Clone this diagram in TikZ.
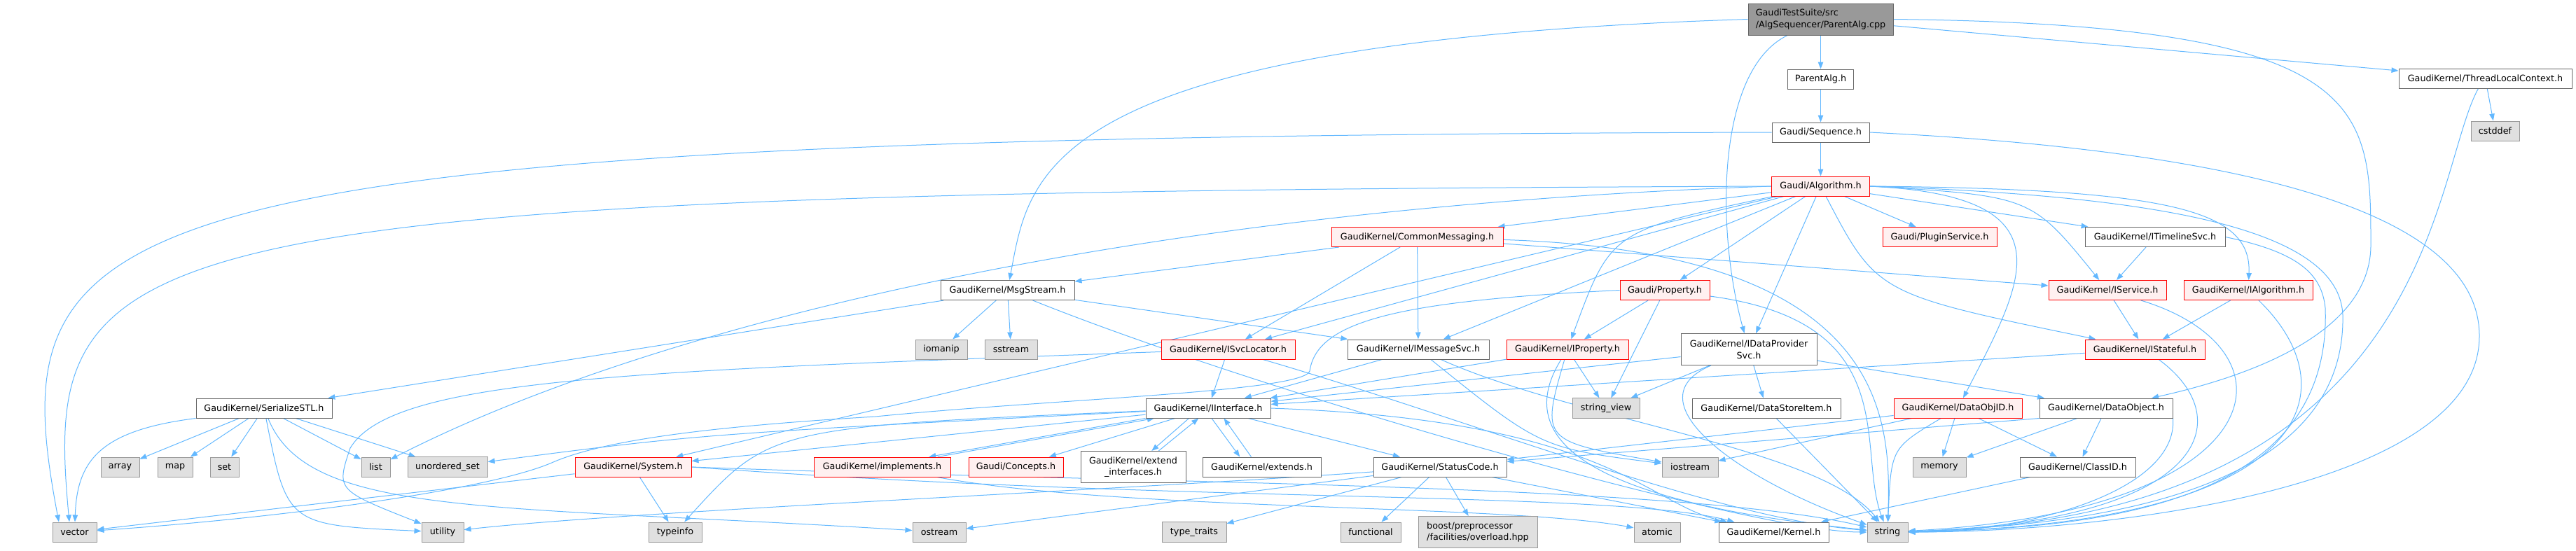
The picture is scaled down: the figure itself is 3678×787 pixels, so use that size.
\documentclass[tikz,border=0pt]{standalone}
\usepackage{fontspec}
\setmainfont{DejaVu Sans}
\usepackage{xcolor}
\usepackage{tikz}
\usetikzlibrary{positioning,backgrounds,arrows.meta}
\definecolor{edgeblue}{HTML}{63B8FF}
\definecolor{truncfill}{HTML}{FFF0F0}
\definecolor{sysfill}{HTML}{E0E0E0}
\definecolor{grey40}{HTML}{666666}
\definecolor{grey60}{HTML}{999999}

\begin{document}
\begin{tikzpicture}[x=0.8pt,y=-0.8pt,font=\fontsize{10.2}{13.3}\selectfont,
 box/.style={draw=grey40,fill=white,line width=0.8pt,align=center,minimum height=22.4pt,inner xsep=2pt,inner ysep=6.2pt},
 sys/.style={box,draw=grey60,fill=sysfill},
 trunc/.style={box,draw=red,fill=truncfill},
 ar/.style={-{Triangle[length=8pt,width=6pt]},draw=edgeblue,line width=0.8pt}]
\useasboundingbox (0,0) rectangle (3678,787);
\node[box,fill=grey60,align=left,minimum width=165.6pt,minimum height=36pt] (root) at (2599.5,27.5) {GaudiTestSuite/src\\/AlgSequencer/ParentAlg.cpp};
\node[box,minimum width=75.2pt,below=38.4pt of root] (parentalg) {ParentAlg.h};
\node[box,minimum width=197.6pt] (tlc) at (3548.5,112) {GaudiKernel/ThreadLocalContext.h};
\node[box,minimum width=111.2pt,below=37.6pt of parentalg] (sequence) {Gaudi/Sequence.h};
\node[sys,minimum width=55.2pt] (cstddef) at (3562.5,187) {cstddef};
\node[trunc,minimum width=112pt,below=38.4pt of sequence] (algorithm) {Gaudi/Algorithm.h};
\node[trunc,minimum width=196pt] (commonmsg) at (2023.5,338.5) {GaudiKernel/CommonMessaging.h};
\node[trunc,minimum width=130.4pt] (pluginsvc) at (2769.5,338.5) {Gaudi/PluginService.h};
\node[box,minimum width=160pt,right=100pt of pluginsvc] (timelinesvc) {GaudiKernel/ITimelineSvc.h};
\node[box,minimum width=152.8pt] (msgstream) at (1438.5,414.5) {GaudiKernel/MsgStream.h};
\node[trunc,minimum width=102.4pt] (property) at (2377,414.5) {Gaudi/Property.h};
\node[trunc,minimum width=134.4pt] (iservice) at (3009,414.5) {GaudiKernel/IService.h};
\node[trunc,minimum width=147.2pt,right=19.2pt of iservice] (ialgorithm) {GaudiKernel/IAlgorithm.h};
\node[sys,minimum width=59.2pt] (iomanip) at (1344,499) {iomanip};
\node[sys,minimum width=60pt,right=19.2pt of iomanip] (sstream) {sstream};
\node[trunc,minimum width=152.8pt] (svclocator) at (1753.5,499) {GaudiKernel/ISvcLocator.h};
\node[box,minimum width=161.6pt,right=59.2pt of svclocator] (messagesvc) {GaudiKernel/IMessageSvc.h};
\node[trunc,minimum width=139.2pt,right=19.2pt of messagesvc] (iproperty) {GaudiKernel/IProperty.h};
\node[box,minimum width=155.2pt,minimum height=36pt,right=59.2pt of iproperty] (dataprovider) {GaudiKernel/IDataProvider\\Svc.h};
\node[trunc,minimum width=136.8pt] (istateful) at (3062.5,499) {GaudiKernel/IStateful.h};
\node[box,minimum width=155.2pt] (serializestl) at (377,583) {GaudiKernel/SerializeSTL.h};
\node[box,minimum width=142.4pt] (iinterface) at (1725,583) {GaudiKernel/IInterface.h};
\node[sys,minimum width=76.8pt] (stringview) at (2293,583) {string\_view};
\node[box,minimum width=169.6pt,right=59.2pt of stringview] (datastoreitem) {GaudiKernel/DataStoreItem.h};
\node[trunc,minimum width=146.4pt,right=60pt of datastoreitem] (dataobjid) {GaudiKernel/DataObjID.h};
\node[box,minimum width=152pt,right=19.2pt of dataobjid] (dataobject) {GaudiKernel/DataObject.h};
\node[sys,minimum width=44pt] (array) at (171.5,667) {array};
\node[sys,minimum width=40pt,right=20pt of array] (map) {map};
\node[sys,minimum width=32.8pt,right=19.2pt of map] (set) {set};
\node[sys,minimum width=32.8pt] (list) at (536.5,667) {list};
\node[sys,minimum width=91.2pt,right=19.2pt of list] (unorderedset) {unordered\_set};
\node[trunc,minimum width=132.8pt] (system) at (904,667) {GaudiKernel/System.h};
\node[trunc,minimum width=156pt] (implements) at (1259.5,667) {GaudiKernel/implements.h};
\node[trunc,minimum width=108pt,right=20pt of implements] (concepts) {Gaudi/Concepts.h};
\node[box,minimum width=120pt,minimum height=36pt,right=19.2pt of concepts] (extendif) {GaudiKernel/extend\\\_interfaces.h};
\node[box,minimum width=135.2pt,right=18.4pt of extendif] (extends) {GaudiKernel/extends.h};
\node[box,minimum width=152pt,right=59.2pt of extends] (statuscode) {GaudiKernel/StatusCode.h};
\node[sys,minimum width=64pt] (iostream) at (2413,667) {iostream};
\node[sys,minimum width=60.8pt] (memory) at (2769,667) {memory};
\node[box,minimum width=132pt,right=60.8pt of memory] (classid) {GaudiKernel/ClassID.h};
\node[sys,minimum width=50.4pt] (vector) at (106.5,760) {vector};
\node[sys,minimum width=48pt] (utility) at (632,760) {utility};
\node[sys,minimum width=60.8pt] (typeinfo) at (964,760) {typeinfo};
\node[sys,minimum width=60.8pt] (ostream) at (1341,760) {ostream};
\node[sys,minimum width=73.6pt] (typetraits) at (1705,760) {type\_traits};
\node[sys,minimum width=68.8pt] (functional) at (1957,760) {functional};
\node[sys,align=left,minimum width=136pt,minimum height=36pt,right=19.2pt of functional] (boost) {boost/preprocessor\\/facilities/overload.hpp};
\node[sys,minimum width=52.8pt] (atomic) at (2366,760) {atomic};
\node[box,minimum width=125.6pt,right=43.2pt of atomic] (kernel) {GaudiKernel/Kernel.h};
\node[sys,minimum width=46.4pt,right=43.2pt of kernel] (string) {string};
\begin{scope}[on background layer]
\draw[ar] (root) -- (parentalg);
\draw[ar] (parentalg) -- (sequence);
\draw[ar] (sequence) -- (algorithm);
\draw[ar] (root) -- (tlc);
\draw[ar] (tlc) -- (cstddef);
\draw[ar] (root.west) .. controls (1480,60) and (1470,250) .. (msgstream);
\draw[ar] (root) .. controls (2450,100) and (2450,330) .. (dataprovider);
\draw[ar] (root.east) .. controls (3385,35) and (3385,150) .. (3385,350) .. controls (3385,480) and (3200,540) .. (dataobject);
\draw[ar] (sequence.west) .. controls (100,195) and (0,300) .. ([xshift=-18pt]vector.north);
\draw[ar] (algorithm.west) .. controls (150,275) and (60,330) .. ([xshift=-6pt]vector.north);
\draw[ar] (sequence.east) .. controls (3300,220) and (3540,330) .. (3540,480) .. controls (3540,700) and (3000,760) .. (string);
\draw[ar] ([xshift=-8pt]tlc.south) .. controls (3470,250) and (3480,740) .. (string);
\draw[ar] (algorithm) -- (commonmsg);
\draw[ar] (algorithm) -- (pluginsvc);
\draw[ar] (algorithm) -- (timelinesvc);
\draw[ar] (algorithm.east) .. controls (3100,270) and (3215,300) .. (ialgorithm);
\draw[ar] (algorithm.east) .. controls (2900,280) .. (iservice);
\draw[ar] (algorithm) .. controls (2680,420) .. (istateful);
\draw[ar] (algorithm) -- (svclocator);
\draw[ar] (algorithm) -- (messagesvc);
\draw[ar] (algorithm) .. controls (2300,330) .. (iproperty);
\draw[ar] (algorithm) -- (property);
\draw[ar] (algorithm) -- (dataprovider);
\draw[ar] (algorithm.east) .. controls (2960,280) and (2890,400) .. (dataobjid);
\draw[ar] (algorithm) -- (system);
\draw[ar] (algorithm.east) .. controls (3100,280) and (3340,330) .. (3345,450) .. controls (3350,700) and (3000,750) .. (string);
\draw[ar] (algorithm.west) .. controls (1560,300) and (900,480) .. (list);
\draw[ar] (commonmsg) -- (msgstream);
\draw[ar] (commonmsg) -- (svclocator);
\draw[ar] (commonmsg) -- (messagesvc);
\draw[ar] (commonmsg) -- (iservice);
\draw[ar] (commonmsg) .. controls (2700,360) and (2700,600) .. (string);
\draw[ar] (msgstream) -- (serializestl);
\draw[ar] (msgstream) -- (iomanip);
\draw[ar] (msgstream) -- (sstream);
\draw[ar] (msgstream) -- (messagesvc);
\draw[ar] (msgstream) .. controls (1800,560) and (2500,760) .. (string);
\draw[ar] (serializestl.south west) .. controls (140,615) and (110,660) .. (vector);
\draw[ar] (serializestl) -- (array);
\draw[ar] (serializestl) -- (map);
\draw[ar] (serializestl) -- (set);
\draw[ar] (serializestl) -- (list);
\draw[ar] (serializestl) -- (unorderedset);
\draw[ar] (serializestl) .. controls (410,750) .. (utility);
\draw[ar] (serializestl) .. controls (440,740) and (700,720) .. (ostream);
\draw[ar] (svclocator) -- (iinterface);
\draw[ar] (svclocator) .. controls (2100,600) and (2450,740) .. (string);
\draw[ar] (svclocator) .. controls (900,530) and (560,540) .. (500,640) .. controls (480,700) .. (utility);
\draw[ar] (messagesvc) -- (iinterface);
\draw[ar] (messagesvc) .. controls (2200,640) .. (iostream);
\draw[ar] (messagesvc) .. controls (2250,600) and (2600,640) .. (string);
\draw[ar] (iproperty) -- (iinterface);
\draw[ar] (iproperty) -- (stringview);
\draw[ar] (iproperty) .. controls (2150,640) and (2300,720) .. (string);
\draw[ar] (iproperty) .. controls (2200,630) .. (iostream);
\draw[ar] (property) -- (iproperty);
\draw[ar] (property) -- (stringview);
\draw[ar] (property) .. controls (2720,460) and (2650,640) .. (string);
\draw[ar] (property.west) .. controls (1990,430) and (1880,460) .. (1870,530) .. controls (1860,560) and (1500,570) .. (1250,595) .. controls (1000,610) and (860,630) .. (790,660) .. controls (700,700) and (400,740) .. (vector);
\draw[ar] (dataprovider) -- (iinterface);
\draw[ar] (dataprovider) -- (stringview);
\draw[ar] (dataprovider) -- (datastoreitem);
\draw[ar] (dataprovider) -- (dataobject);
\draw[ar] (dataprovider) .. controls (2330,570) and (2470,680) .. (string);
\draw[ar] (datastoreitem) -- (string);
\draw[ar] (dataobjid) -- (memory);
\draw[ar] (dataobjid) .. controls (2700,640) .. (string);
\draw[ar] (dataobjid) -- (classid);
\draw[ar] (dataobjid) -- (iostream);
\draw[ar] (dataobjid) -- (statuscode);
\draw[ar] (dataobject) -- (classid);
\draw[ar] (dataobject) -- (memory);
\draw[ar] (dataobject.south west) -- (statuscode);
\draw[ar] (dataobject.south east) .. controls (3110,700) and (2900,760) .. (string);
\draw[ar] (classid) -- (kernel);
\draw[ar] (timelinesvc) -- (iservice);
\draw[ar] (timelinesvc.east) .. controls (3280,360) and (3315,390) .. (3320,440) .. controls (3330,720) and (3000,755) .. (string);
\draw[ar] (iservice) -- (istateful);
\draw[ar] (iservice) .. controls (3290,500) and (3250,730) .. (string);
\draw[ar] (ialgorithm) -- (istateful);
\draw[ar] (ialgorithm) .. controls (3360,560) and (3300,750) .. (string);
\draw[ar] (istateful) -- (iinterface);
\draw[ar] (istateful) .. controls (3200,600) and (3150,745) .. (string);
\draw[ar] (iinterface) -- (system);
\draw[ar] (iinterface) .. controls (1100,610) .. (typeinfo);
\draw[ar] (iinterface) -- (statuscode);
\draw[ar] (iinterface.east) .. controls (2300,600) and (2350,720) .. (kernel);
\draw[ar] (iinterface.south west) -- ([xshift=-25pt]implements.north east);
\draw[ar] ([xshift=-15pt]implements.north east) -- ([xshift=10pt]iinterface.south west);
\draw[ar] ([xshift=-22pt]iinterface.south) -- ([xshift=21pt]extendif.north);
\draw[ar] ([xshift=29pt]extendif.north) -- ([xshift=-11pt]iinterface.south);
\draw[ar] ([xshift=4pt]iinterface.south) -- ([xshift=-25pt]extends.north);
\draw[ar] ([xshift=-12pt]extends.north) -- ([xshift=18pt]iinterface.south);
\draw[ar] (iinterface) -- (concepts);
\draw[ar] (iinterface) .. controls (1000,620) .. (unorderedset);
\draw[ar] (system) -- (typeinfo);
\draw[ar] (system) -- (vector);
\draw[ar] (system.east) .. controls (1700,720) and (2300,700) .. (kernel);
\draw[ar] (system.east) .. controls (1600,690) and (2400,690) .. (string);
\draw[ar] (implements) .. controls (1600,730) and (2150,720) .. (atomic);
\draw[ar] (statuscode) -- (functional);
\draw[ar] (statuscode) -- (boost);
\draw[ar] (statuscode) -- (ostream);
\draw[ar] (statuscode) -- (typetraits);
\draw[ar] (statuscode) -- (kernel);
\draw[ar] (statuscode) .. controls (1600,700) and (900,730) .. (utility);
\end{scope}
\end{tikzpicture}
\end{document}
